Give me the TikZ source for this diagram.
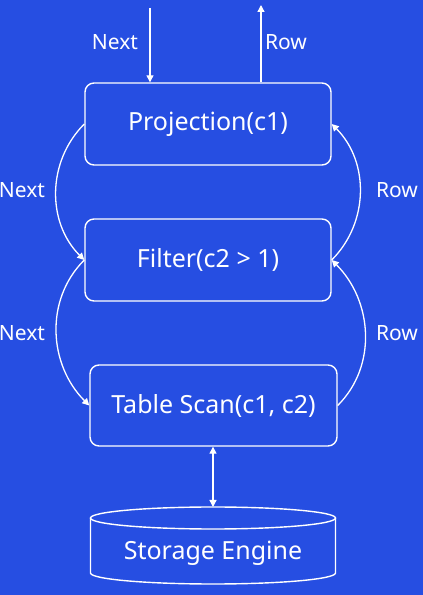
\documentclass[tikz,border=0pt]{standalone}
\usepackage{fontspec}
\setmainfont{Noto Sans}
\usetikzlibrary{arrows.meta,positioning,backgrounds}
\definecolor{slideblue}{RGB}{38,78,226}
\tikzset{
  opbox/.style={rectangle, rounded corners=9pt, draw=white, line width=1.4pt,
                minimum width=246pt, minimum height=82pt, inner sep=0pt,
                text=white, font=\fontsize{25}{29}\selectfont},
  oplabel/.style={text=white, font=\fontsize{21}{25}\selectfont},
  opflow/.style={-{Triangle[length=7pt, width=7pt]}, line width=1.3pt, white},
  opline/.style={line width=1.4pt, white},
}
\begin{document}
\begin{tikzpicture}[x=1pt, y=1pt]
\fill[slideblue] (0,0) rectangle (423,595);
\useasboundingbox (0,0) rectangle (423,595);
\node[opbox] (proj) at (208,471)   {Projection(c1)};
\node[opbox] (filt) at (208,335)   {Filter(c2 > 1)};
\node[opbox, minimum width=247pt, minimum height=81pt] (scan) at (213.5,189.5) {Table Scan(c1, c2)};
\coordinate (nexttop) at (150,587);
\coordinate (rowtop)  at (261,590);
\draw[opflow] (nexttop) -- (proj.north -| nexttop);
\draw[opflow] (proj.north -| rowtop) -- (rowtop);
\node[oplabel] (nextlbl) at (115,553) {Next};
\node[oplabel] (rowlbl)  at (286,553) {Row};
% next calls go down on the left, rows come back up on the right
\draw[opflow] (proj.west) to[out=225, in=135] (filt.west);
\draw[opflow] (filt.west) to[out=225, in=135] (scan.west);
\draw[opflow] (filt.east) to[out=45, in=-45] (proj.east);
\draw[opflow] (scan.east) to[out=45, in=-45] (filt.east);
\node[oplabel] (nextA) at (22,405) {Next};
\node[oplabel] (nextB) at (22,262) {Next};
\node[oplabel] (rowA)  at (397,405) {Row};
\node[oplabel] (rowB)  at (397,262) {Row};
% storage cylinder
\draw[opline] (90.5,77) -- (90.5,22) arc[start angle=180, end angle=360, x radius=122.5, y radius=11] -- (335.5,77);
\draw[opline] (213,77) ellipse[x radius=122.5, y radius=11];
\coordinate (storetop) at (213,88);
\node[text=white, font=\fontsize{25}{29}\selectfont] (store) at (213,42) {Storage Engine};
\draw[opflow, {Triangle[length=7pt, width=7pt]}-{Triangle[length=7pt, width=7pt]}] (scan.south -| storetop) -- (storetop);
\end{tikzpicture}
\end{document}
